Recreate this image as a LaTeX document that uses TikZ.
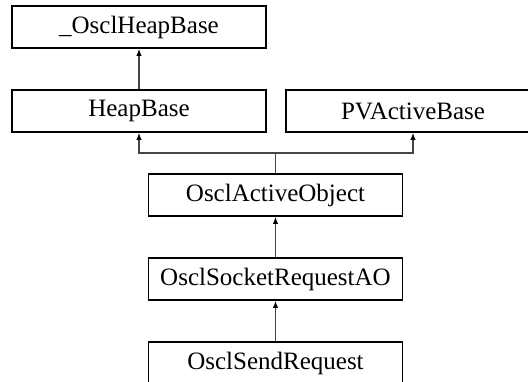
\documentclass[tikz,border=0pt]{standalone}
\usepackage{fontspec}
\setmainfont{Liberation Serif}
\usetikzlibrary{arrows.meta}
\begin{document}
\begin{tikzpicture}[x=1pt,y=1pt,
  cls/.style={draw=black,line width=1.7pt,fill=white,minimum width=254pt,minimum height=42pt,inner sep=0pt,font=\fontsize{25}{29}\selectfont},
  conn/.style={draw={rgb,255:red,70;green,70;blue,70},line width=1.3pt},
  arr/.style={conn,-{Latex[length=7pt,width=5.5pt,fill=black,color=black]}}]
\useasboundingbox (0,0) rectangle (528,-381);
\node[cls] (A) at (139,-27) {\_OsclHeapBase};
\node[cls] (B) at (139,-111) {HeapBase};
\node[cls] (C) at (413,-111) {PVActiveBase};
\node[cls] (D) at (275.5,-195) {OsclActiveObject};
\node[cls] (E) at (275.5,-279) {OsclSocketRequestAO};
\node[cls] (F) at (275.5,-363) {OsclSendRequest};
\coordinate (j) at (275.5,-153);
\draw[arr] (B.north) -- (A.south);
\draw[conn] (D.north) -- (j);
\draw[arr] (j) -| (B.south);
\draw[arr] (j) -| (C.south);
\draw[arr] (E.north) -- (D.south);
\draw[arr] (F.north) -- (E.south);
\end{tikzpicture}
\end{document}
